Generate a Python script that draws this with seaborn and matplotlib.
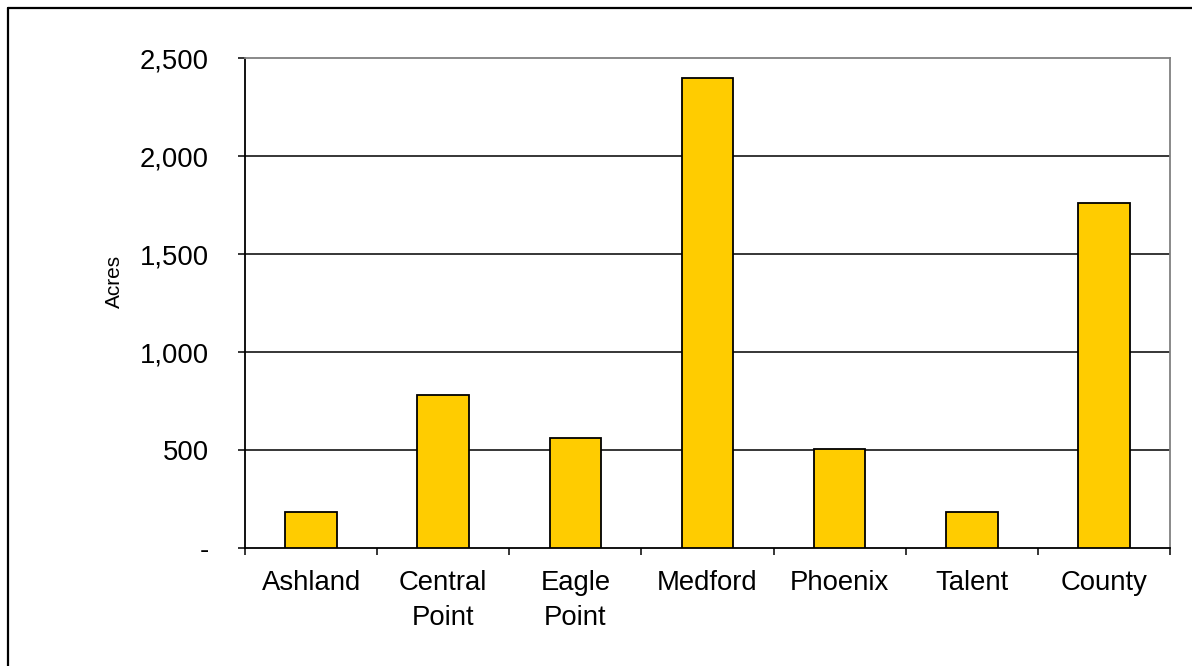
import matplotlib
matplotlib.use("Agg")
import matplotlib.pyplot as plt
from matplotlib.lines import Line2D
import seaborn as sns
import pandas as pd

# Acreage by jurisdiction
categories = ["Ashland", "Central\nPoint", "Eagle\nPoint", "Medford", "Phoenix", "Talent", "County"]
acres = [182, 782, 560, 2400, 507, 182, 1760]
y_ticks = [0, 500, 1000, 1500, 2000, 2500]
y_tick_labels = ["-", "500", "1,000", "1,500", "2,000", "2,500"]

sns.set_theme(style="white")
plt.rcParams["font.family"] = ["Liberation Sans", "DejaVu Sans"]

W, H = 1192, 666
fig = plt.figure(figsize=(W / 100, H / 100), dpi=100)
ax = fig.add_axes([245 / W, 118 / H, 925 / W, 490 / H])

df = pd.DataFrame({"place": categories, "acres": acres})
sns.barplot(data=df, x="place", y="acres", color="#FFCC00", saturation=1,
            width=0.39, edgecolor="black", linewidth=1.3, ax=ax, zorder=3)

ax.set_xlim(-0.5, len(categories) - 0.5)
ax.set_ylim(0, 2500)

# horizontal gridlines
for v in y_ticks[1:-1]:
    ax.axhline(v, color="black", lw=1.1, zorder=1)

ax.set_yticks(y_ticks)
ax.set_yticklabels(y_tick_labels)
ax.tick_params(axis="y", which="major", left=True, length=5, width=1.1,
               color="black", direction="out", labelsize=19.8, pad=21)

# category boundary ticks on the x axis
ax.set_xticks([i - 0.5 for i in range(len(categories) + 1)], minor=True)
ax.tick_params(axis="x", which="minor", bottom=True, length=5, width=1.1,
               color="black", direction="out")
ax.tick_params(axis="x", which="major", bottom=False, length=0,
               labelsize=19.8, pad=16)
for t in ax.get_xticklabels():
    t.set_linespacing(1.45)

ax.set_xlabel("")
ax.set_ylabel("Acres", fontsize=15, color="black")
ax.yaxis.set_label_coords(-0.131, 0.545)

for side in ["left", "bottom"]:
    ax.spines[side].set_color("black")
    ax.spines[side].set_linewidth(1.3)
for side in ["top", "right"]:
    ax.spines[side].set_color("#808080")
    ax.spines[side].set_linewidth(1.3)
ax.tick_params(colors="black", labelcolor="black")

# chart frame
fig.add_artist(Line2D([8 / W, 8 / W], [0, 1 - 7.5 / H], transform=fig.transFigure,
                      color="black", lw=1.6))
fig.add_artist(Line2D([8 / W, 1], [1 - 7.5 / H, 1 - 7.5 / H], transform=fig.transFigure,
                      color="black", lw=1.6))

fig.savefig("out.png", dpi=100, facecolor="white")
